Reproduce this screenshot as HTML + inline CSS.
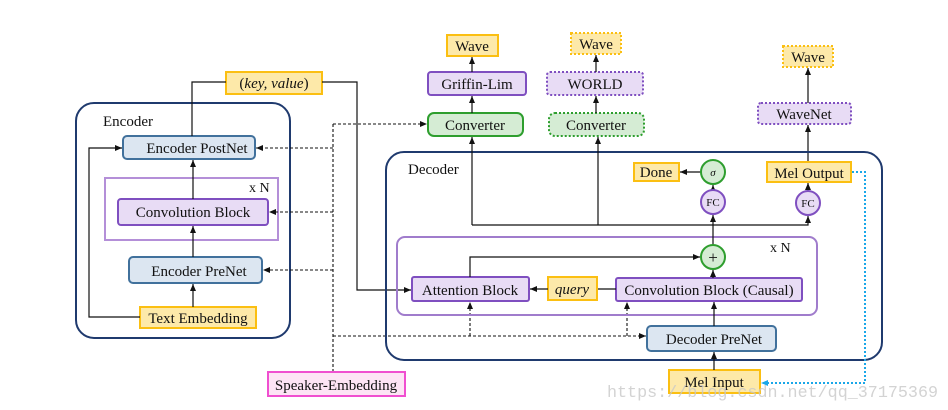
<!DOCTYPE html>
<html><head><meta charset="utf-8"><style>
html,body{margin:0;padding:0;background:#fff;}
svg{display:block;}
text{font-family:"Liberation Serif",serif;fill:#111;}
</style></head><body>
<svg width="948" height="410" viewBox="0 0 948 410" xmlns="http://www.w3.org/2000/svg">
<defs>
<marker id="a" markerWidth="8" markerHeight="8" refX="7" refY="4" orient="auto" markerUnits="userSpaceOnUse"><path d="M0,1 L7,4 L0,7 z" fill="#111"/></marker>
<marker id="b" markerWidth="8" markerHeight="8" refX="7" refY="4" orient="auto" markerUnits="userSpaceOnUse"><path d="M0,1 L7,4 L0,7 z" fill="#1aa7e8"/></marker>
</defs>
<!-- Encoder -->
<rect x="76" y="103" width="214" height="235" rx="18" fill="none" stroke="#1f3a6e" stroke-width="2"/>
<text x="103" y="126" font-size="15">Encoder</text>
<rect x="105" y="178" width="173" height="62" fill="none" stroke="#b48fd8" stroke-width="2"/>
<text x="249" y="192" font-size="14">x N</text>
<rect x="123" y="136" width="132" height="23" rx="4" fill="#dce6f1" stroke="#41719c" stroke-width="2"/>
<text x="197" y="153" font-size="15" text-anchor="middle">Encoder PostNet</text>
<rect x="118" y="199" width="150" height="26" rx="3" fill="#e8dcf5" stroke="#7f4fc0" stroke-width="2"/>
<text x="193" y="217" font-size="15" text-anchor="middle">Convolution Block</text>
<rect x="129" y="257" width="133" height="26" rx="4" fill="#dce6f1" stroke="#41719c" stroke-width="2"/>
<text x="199" y="276" font-size="15" text-anchor="middle">Encoder PreNet</text>
<rect x="140" y="307" width="116" height="21" fill="#fde9a9" stroke="#fbbf12" stroke-width="2"/>
<text x="198" y="323" font-size="15" text-anchor="middle">Text Embedding</text>
<rect x="226" y="72" width="96" height="22" fill="#fde9a9" stroke="#fbbf12" stroke-width="2"/>
<text x="274" y="88" font-size="15" text-anchor="middle">(<tspan font-style="italic">key, value</tspan>)</text>
<g stroke="#111" stroke-width="1.2" fill="none">
<line x1="193" y1="307" x2="193" y2="284" marker-end="url(#a)"/>
<line x1="193" y1="257" x2="193" y2="226" marker-end="url(#a)"/>
<line x1="193" y1="199" x2="193" y2="160" marker-end="url(#a)"/>
<polyline points="140,317 89,317 89,148 122,148" marker-end="url(#a)"/>
<polyline points="192,136 192,82 226,82"/>
<polyline points="322,82 357,82 357,290 411,290" marker-end="url(#a)"/>
</g>
<!-- speaker dashed -->
<g stroke="#111" stroke-width="1.1" fill="none" stroke-dasharray="3,2">
<line x1="333" y1="124" x2="333" y2="372"/>
<line x1="333" y1="124" x2="427" y2="124" marker-end="url(#a)"/>
<line x1="333" y1="148" x2="256" y2="148" marker-end="url(#a)"/>
<line x1="333" y1="212" x2="269" y2="212" marker-end="url(#a)"/>
<line x1="333" y1="270" x2="263" y2="270" marker-end="url(#a)"/>
<line x1="333" y1="336" x2="646" y2="336" marker-end="url(#a)"/>
<line x1="470" y1="336" x2="470" y2="302" marker-end="url(#a)"/>
<line x1="627" y1="336" x2="627" y2="302" marker-end="url(#a)"/>
</g>
<rect x="268" y="372" width="137" height="24" fill="#fde4f5" stroke="#f04fd0" stroke-width="2"/>
<text x="336" y="390" font-size="15" text-anchor="middle">Speaker-Embedding</text>
<!-- Top outputs -->
<rect x="447" y="35" width="51" height="21" fill="#fde9a9" stroke="#fbbf12" stroke-width="2"/>
<text x="472" y="51" font-size="15" text-anchor="middle">Wave</text>
<rect x="428" y="72" width="98" height="23" rx="3" fill="#e8dcf5" stroke="#7f4fc0" stroke-width="2"/>
<text x="477" y="89" font-size="15" text-anchor="middle">Griffin-Lim</text>
<rect x="428" y="113" width="95" height="23" rx="6" fill="#d5ecd4" stroke="#2e9e2e" stroke-width="2"/>
<text x="475" y="130" font-size="15" text-anchor="middle">Converter</text>
<rect x="571" y="33" width="50" height="21" fill="#fde9a9" stroke="#fbbf12" stroke-width="2" stroke-dasharray="2,2"/>
<text x="596" y="49" font-size="15" text-anchor="middle">Wave</text>
<rect x="547" y="72" width="96" height="23" rx="3" fill="#e8dcf5" stroke="#7f4fc0" stroke-width="2" stroke-dasharray="2,2"/>
<text x="595" y="89" font-size="15" text-anchor="middle">WORLD</text>
<rect x="549" y="113" width="95" height="23" rx="6" fill="#d5ecd4" stroke="#2e9e2e" stroke-width="2" stroke-dasharray="2,2"/>
<text x="596" y="130" font-size="15" text-anchor="middle">Converter</text>
<rect x="783" y="46" width="50" height="21" fill="#fde9a9" stroke="#fbbf12" stroke-width="2" stroke-dasharray="2,2"/>
<text x="808" y="62" font-size="15" text-anchor="middle">Wave</text>
<rect x="758" y="103" width="93" height="21" rx="3" fill="#e8dcf5" stroke="#7f4fc0" stroke-width="2" stroke-dasharray="2,2"/>
<text x="804" y="119" font-size="15" text-anchor="middle">WaveNet</text>
<g stroke="#111" stroke-width="1.2" fill="none">
<line x1="472" y1="72" x2="472" y2="57" marker-end="url(#a)"/>
<line x1="472" y1="113" x2="472" y2="96" marker-end="url(#a)"/>
<line x1="596" y1="72" x2="596" y2="55" marker-end="url(#a)"/>
<line x1="596" y1="113" x2="596" y2="96" marker-end="url(#a)"/>
<line x1="808" y1="103" x2="808" y2="68" marker-end="url(#a)"/>
<line x1="808" y1="162" x2="808" y2="125" marker-end="url(#a)"/>
</g>
<!-- Decoder -->
<rect x="386" y="152" width="496" height="208" rx="18" fill="none" stroke="#1f3a6e" stroke-width="2"/>
<text x="408" y="174" font-size="15">Decoder</text>
<rect x="397" y="237" width="420" height="78" rx="8" fill="none" stroke="#a07ccc" stroke-width="2"/>
<text x="770" y="252" font-size="14">x N</text>
<rect x="412" y="277" width="117" height="24" rx="2" fill="#e8dcf5" stroke="#7f4fc0" stroke-width="2"/>
<text x="470" y="295" font-size="15" text-anchor="middle">Attention Block</text>
<rect x="548" y="277" width="49" height="23" fill="#fde9a9" stroke="#fbbf12" stroke-width="2"/>
<text x="572" y="294" font-size="15" font-style="italic" text-anchor="middle">query</text>
<rect x="616" y="278" width="186" height="23" rx="2" fill="#e8dcf5" stroke="#7f4fc0" stroke-width="2"/>
<text x="709" y="295" font-size="15" text-anchor="middle">Convolution Block (Causal)</text>
<rect x="647" y="326" width="129" height="25" rx="4" fill="#dce6f1" stroke="#41719c" stroke-width="2"/>
<text x="714" y="344" font-size="15" text-anchor="middle">Decoder PreNet</text>
<rect x="669" y="370" width="91" height="23" fill="#fde9a9" stroke="#fbbf12" stroke-width="2"/>
<text x="714" y="387" font-size="15" text-anchor="middle">Mel Input</text>
<rect x="634" y="163" width="45" height="18" fill="#fde9a9" stroke="#fbbf12" stroke-width="2"/>
<text x="656" y="177" font-size="15" text-anchor="middle">Done</text>
<rect x="767" y="162" width="84" height="20" fill="#fde9a9" stroke="#fbbf12" stroke-width="2"/>
<text x="809" y="178" font-size="15" text-anchor="middle">Mel Output</text>
<g stroke="#111" stroke-width="1.2" fill="none">
<line x1="714" y1="370" x2="714" y2="352" marker-end="url(#a)"/>
<line x1="714" y1="326" x2="714" y2="302" marker-end="url(#a)"/>
<line x1="713" y1="278" x2="713" y2="270" marker-end="url(#a)"/>
<line x1="616" y1="289" x2="598" y2="289"/>
<line x1="548" y1="289" x2="530" y2="289" marker-end="url(#a)"/>
<polyline points="470,277 470,257 700,257" marker-end="url(#a)"/>
<line x1="713" y1="245" x2="713" y2="215" marker-end="url(#a)"/>
<line x1="713" y1="190" x2="713" y2="185" marker-end="url(#a)"/>
<line x1="701" y1="172" x2="680" y2="172" marker-end="url(#a)"/>
<polyline points="472,225 808,225 808,216" marker-end="url(#a)"/>
<line x1="472" y1="225" x2="472" y2="137" marker-end="url(#a)"/>
<line x1="598" y1="225" x2="598" y2="137" marker-end="url(#a)"/>
<line x1="808" y1="191" x2="808" y2="183" marker-end="url(#a)"/>
</g>
<circle cx="713" cy="257" r="12" fill="#d5ecd4" stroke="#2e9e2e" stroke-width="2"/>
<text x="713" y="263" font-size="17" text-anchor="middle">+</text>
<circle cx="713" cy="202" r="12" fill="#e8dcf5" stroke="#7f4fc0" stroke-width="2"/>
<text x="713" y="206" font-size="11" text-anchor="middle">FC</text>
<circle cx="713" cy="172" r="12" fill="#d5ecd4" stroke="#2e9e2e" stroke-width="2"/>
<text x="713" y="176" font-size="11" font-style="italic" text-anchor="middle">σ</text>
<circle cx="808" cy="203" r="12" fill="#e8dcf5" stroke="#7f4fc0" stroke-width="2"/>
<text x="808" y="207" font-size="11" text-anchor="middle">FC</text>
<polyline points="852,172 865,172 865,383 761,383" fill="none" stroke="#1aa7e8" stroke-width="2" stroke-dasharray="2,2" marker-end="url(#b)"/>
<text x="607" y="397" font-size="17" textLength="331" lengthAdjust="spacingAndGlyphs" style="font-family:'Liberation Mono',monospace;fill:#c8c8c8;fill-opacity:0.8">https://blog.csdn.net/qq_37175369</text>
</svg>
</body></html>
